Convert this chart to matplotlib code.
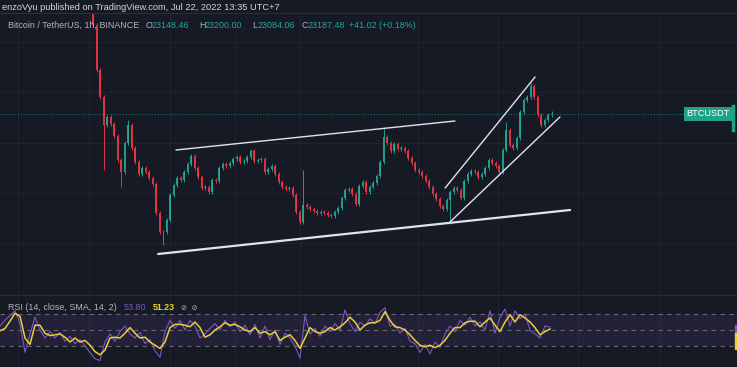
import numpy as np
import matplotlib.pyplot as plt

W, H = 737, 367

# hourly BTC/USDT candles (close prices), first open above view
first_open = 26400
closes = [25850, 24500, 23690, 22850, 23090, 22880, 22520, 21800, 21440, 22310,
          22850, 22160, 21740, 21380, 21560, 21440, 21260, 21080, 20210, 19640,
          19640, 20000, 20750, 21050, 21260, 21200, 21440, 21680, 21920, 21560,
          21290, 20960, 20990, 20840, 21200, 21170, 21560, 21680, 21620, 21710,
          21830, 21890, 21740, 21770, 21890, 22070, 21770, 21800, 21820, 21440,
          21530, 21620, 21380, 21140, 20990, 20930, 20960, 20750, 20240, 19940,
          20450, 20390, 20330, 20270, 20210, 20240, 20210, 20150, 20120, 20240,
          20360, 20660, 20900, 20930, 20780, 20480, 21020, 21140, 20840, 20990,
          21110, 21320, 21740, 22490, 22310, 22070, 22280, 22130, 22160, 22070,
          21860, 21710, 21500, 21440, 21320, 21170, 20990, 20780, 20630, 20420,
          20330, 20600, 20840, 20960, 20900, 20660, 21170, 21380, 21470, 21440,
          21290, 21380, 21560, 21800, 21710, 21620, 21440, 22100, 22700, 22250,
          22160, 22460, 23240, 23600, 23690, 24020, 23690, 23150, 22850, 23000,
          23148.46, 23187.48]
# long wicks visible on the chart: index -> (high, low)
spikes = {0: (26500, None), 3: (None, 21500), 8: (None, 20990), 10: (23000, None),
          20: (None, 19250), 60: (21500, None), 83: (22790, None),
          102: (None, 19880), 118: (22940, None), 125: (24110, None)}
wick_pad = 70

# RSI(14) and its SMA(14), sampled every 5 px from the left edge
rsi = [55, 62, 68, 74, 58, 22, 45, 66, 50, 40, 48, 40, 47, 36, 42, 33, 38, 30, 22, 14,
       12, 35, 45, 36, 48, 55, 45, 40, 47, 33, 38, 24, 16, 48, 62, 52, 62, 50, 62, 55,
       40, 45, 52, 58, 50, 62, 54, 60, 48, 56, 44, 57, 40, 55, 38, 50, 32, 46, 40, 30,
       15, 68, 45, 52, 42, 55, 48, 58, 50, 75, 58, 48, 60, 55, 64, 58, 72, 78, 55, 57,
       46, 52, 36, 33, 22, 32, 20, 35, 28, 45, 55, 48, 62, 56, 66, 55, 60, 50, 74, 46,
       66, 76, 55, 74, 64, 70, 50, 45, 40, 55, 53.80]
rsi_ma = [49, 52, 61, 71, 67, 40, 32, 56, 56, 46, 43, 44, 45, 41, 35, 40, 35, 37, 31, 23,
          19, 25, 40, 41, 40, 46, 53, 46, 40, 41, 35, 31, 27, 35, 53, 57, 57, 56, 54, 60,
          53, 41, 44, 50, 54, 59, 56, 57, 54, 50, 48, 53, 46, 48, 44, 48, 37, 41, 44, 37,
          27, 40, 53, 48, 46, 48, 53, 50, 54, 59, 66, 60, 50, 56, 59, 59, 62, 73, 62, 54,
          53, 50, 44, 37, 31, 29, 31, 28, 31, 37, 46, 53, 53, 59, 61, 61, 54, 60, 65, 56,
          48, 60, 69, 60, 69, 65, 60, 53, 44, 48, 51.23]

# drawn trend lines: (hour, price) end points
trend_lines = [((23.7, 22100), (103.4, 22970), 1.0),
               ((18.6, 18980), (136.3, 20300), 1.6),
               ((100.6, 20960), (126.3, 24290), 1.0),
               ((101.7, 19910), (133.4, 23090), 1.0)]

bg = "#161a25"
grid_c = "#1f2330"
green = "#22ab94"
red = "#f23645"
txt = "#b2b5be"
font = "Liberation Sans"

def px_to_t(x):
    return (x - 93) / 3.5

fig = plt.figure(figsize=(W / 100, H / 100), dpi=100, facecolor=bg)
ax = fig.add_axes([0, 72 / H, 1, 282 / H], facecolor=bg)
ax2 = fig.add_axes([0, 0, 1, 72 / H], facecolor=bg)

# candles
c = np.array(closes, dtype=float)
o = np.concatenate([[first_open], c[:-1]])
hi = np.maximum(o, c) + wick_pad
lo = np.minimum(o, c) - wick_pad
for i, (h, l) in spikes.items():
    if h is not None:
        hi[i] = h
    if l is not None:
        lo[i] = l
t = np.arange(len(c))
cols = np.where(c >= o, green, red)

for gx in [18, 89, 170, 235, 300, 418, 498, 578, 660]:
    ax.axvline(px_to_t(gx), color=grid_c, lw=0.8, zorder=0)
    ax2.axvline(px_to_t(gx), color=grid_c, lw=0.8, zorder=0)
for gp in [25340, 23840, 22310, 20810, 19310]:
    ax.axhline(gp, color=grid_c, lw=0.8, zorder=0)

ax.vlines(t, lo, hi, colors=cols, lw=0.7, alpha=0.9, zorder=2)
ax.bar(t, np.maximum(np.abs(c - o), 15), bottom=np.minimum(o, c), width=0.55,
       color=cols, alpha=0.9, zorder=3)

for (x0, y0), (x1, y1), lw in trend_lines:
    ax.plot([x0, x1], [y0, y1], color="#e0e3eb", lw=lw, zorder=4,
            solid_capstyle="round")

last = closes[-1]
ax.plot([px_to_t(0), px_to_t(685)], [last, last], color="#26a69a", lw=0.7,
        ls=(0, (1, 2)), alpha=0.7, zorder=1)
ax.text(px_to_t(708), last, "BTCUSDT", color="white", fontsize=6.6, family=font,
        ha="center", va="center", zorder=6,
        bbox=dict(boxstyle="square,pad=0.3", fc="#1fa386", ec="none"))
ax.set_xlim(px_to_t(0), px_to_t(W))
ax.set_ylim(26600 - 30 * 295, 26600 - 30 * 13)
ax.axis("off")

# RSI pane
ax2.axhspan(30, 70, color="#7e57c2", alpha=0.12, lw=0, zorder=0)
for lv in [70, 50, 30]:
    ax2.axhline(lv, color="#787b86", lw=0.8, ls=(0, (4, 4)), alpha=0.8, zorder=1)
ax2.plot(px_to_t(np.arange(len(rsi)) * 5.0), rsi, color="#7e57c2", lw=0.8, zorder=2)
ax2.plot(px_to_t(np.arange(len(rsi_ma)) * 5.0), rsi_ma, color="#e8cf3a", lw=1.1, zorder=3)
ax2.add_patch(plt.Rectangle((px_to_t(734.5), 46), px_to_t(737) - px_to_t(734.5), 10,
                            color="#7e57c2", zorder=5))
ax2.add_patch(plt.Rectangle((px_to_t(734.5), 26), px_to_t(737) - px_to_t(734.5), 20,
                            color="#e8d12a", zorder=5))
ax2.set_xlim(px_to_t(0), px_to_t(W))
ax2.set_ylim(3.75, 93.75)
ax2.axis("off")

# frame lines
fig.add_artist(plt.Line2D([0, 1], [1 - 13 / H, 1 - 13 / H], color="#2a2e39", lw=0.8))
fig.add_artist(plt.Line2D([0, 1], [72 / H, 72 / H], color="#2a2e39", lw=0.8))
fig.add_artist(plt.Line2D([0.995, 0.995], [1 - 130 / H, 1 - 106 / H], color="#1fa386", lw=2.5))

def ftext(x, y, s, color=txt, size=6.4, fam=font, **kw):
    fig.text(x / W, 1 - y / H, s, color=color, fontsize=size, family=fam,
             va="center", ha="left", **kw)

ftext(2, 7, "enzoVyu published on TradingView.com, Jul 22, 2022 13:35 UTC+7",
      color="#d1d4dc", size=6.7)
ftext(8, 25, "Bitcoin / TetherUS, 1h, BINANCE")
for x, lab, val in [(146, "O", "23148.46"), (199, "H", "23200.00"),
                    (252, "L", "23084.06"), (302, "C", "23187.48")]:
    ftext(x, 25, lab)
    ftext(x + 6, 25, val, color="#26a69a")
ftext(349, 25, "+41.02 (+0.18%)", color="#26a69a")

ftext(8, 308, "RSI (14, close, SMA, 14, 2)")
ftext(124, 308, "53.80", color="#7e57c2")
ftext(153, 308, "51.23", color="#e8d12a", weight="bold")
ftext(181, 308, "\u2298  \u2298", size=5.2, fam="DejaVu Sans")

fig.savefig("out.png", dpi=100, facecolor=bg)
